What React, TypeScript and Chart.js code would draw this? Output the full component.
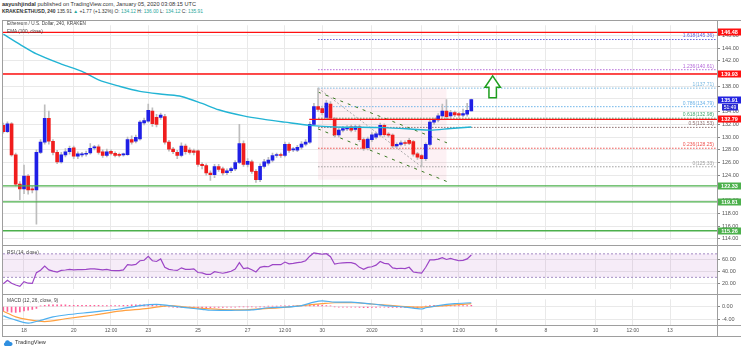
import React, { useEffect, useRef } from "react";
import { Chart, registerables } from "chart.js";
Chart.register(...registerables);

const FONT = "'Liberation Sans', Arial, sans-serif";

// ---------- time axis (days counted from Dec 0, 2019; Jan 1 2020 = 32) ----------
const FIRST_CANDLE_DAY = 17 + 4 / 24; // Dec 17, 04:00
const CANDLE_DAYS = 4 / 24; // 240 min candles
const X_MIN = 17.155;
const X_MAX = 45.887;
const xTickDays = [18, 20, 21.5, 23, 25, 27, 28.5, 30, 32, 34, 35.5, 37, 39, 41, 42.5, 44];
const xTickLabels = ["18", "20", "12:00", "23", "25", "27", "12:00", "30", "2020", "3", "12:00", "6", "8", "10", "12:00", "13"];

// ---------- price pane ----------
const priceTicks = [114, 116, 118, 120, 122, 124, 126, 128, 130, 132, 134, 136, 138, 140, 142, 144, 146];
const opens = [
  131.85, 130.85, 132.1, 127.2, 122.6, 121.85, 123.85, 121.85, 121.7, 127.6,
  129.2, 132.95, 129.35, 127.6, 126.1, 127.2, 127.7, 128.3, 127.0, 127.2,
  127.3, 127.5, 128.3, 128.45, 127.7, 127.1, 127.75, 127.45, 127.3, 127.2,
  127.25, 129.6, 129.35, 129.7, 132.25, 132.5, 134.1, 133.1, 133.1, 133.25,
  129.2, 128.1, 127.6, 127.1, 128.6, 127.95, 127.85, 127.85, 125.7, 125.5,
  124.35, 124.1, 125.35, 125.0, 124.4, 124.7, 125.0, 126.0, 129.0, 125.7,
  126.1, 124.6, 123.3, 125.4, 125.9, 126.35, 127.1, 127.15, 127.1, 128.85,
  128.0, 127.95, 128.4, 128.9, 129.2, 132.0, 134.8, 134.5, 133.1, 135.2,
  132.85, 130.35, 131.1, 131.3, 131.6, 131.2, 131.6, 129.6, 128.35, 129.6,
  130.0, 130.35, 131.85, 130.4, 130.3, 128.6, 128.85, 129.1, 129.5, 129.3,
  127.35, 127.1, 126.6, 128.85, 132.35, 132.7, 133.35, 134.1, 133.35, 133.85,
  133.7, 133.45, 133.6, 134.12,
];
const highs = [
  132.2, 132.4, 132.3, 127.5, 123.0, 125.6, 124.1, 122.2, 128.0, 129.6,
  135.1, 134.1, 129.6, 127.9, 127.6, 128.2, 128.6, 128.6, 127.7, 127.6,
  127.8, 129.0, 128.7, 128.8, 128.0, 128.1, 128.0, 127.7, 127.5, 127.5,
  130.0, 130.2, 130.3, 132.6, 133.0, 135.2, 134.6, 133.6, 133.8, 133.6,
  129.5, 128.4, 127.9, 129.1, 128.9, 128.3, 128.1, 128.0, 126.0, 125.8,
  124.7, 125.7, 125.7, 125.3, 125.0, 125.3, 126.3, 132.0, 129.4, 126.6,
  126.4, 124.9, 125.8, 126.5, 126.8, 127.5, 127.5, 127.5, 129.2, 129.1,
  128.4, 128.7, 129.3, 129.6, 132.4, 135.3, 137.71, 134.9, 135.8, 135.6,
  133.1, 131.5, 131.7, 131.8, 131.9, 131.9, 131.9, 129.9, 130.0, 130.7,
  130.8, 132.2, 132.1, 130.7, 130.5, 129.1, 129.4, 129.4, 129.8, 129.5,
  127.6, 127.3, 129.1, 132.6, 133.0, 133.7, 135.2, 135.9, 134.2, 134.1,
  133.9, 134.4, 135.3, 136.0,
];
const lows = [
  130.6, 130.7, 127.0, 122.3, 120.15, 121.1, 121.0, 121.2, 116.3, 127.4,
  128.9, 128.9, 127.2, 125.8, 125.9, 126.9, 127.3, 126.6, 126.6, 126.9,
  127.0, 127.3, 128.0, 127.3, 126.8, 126.9, 127.2, 126.9, 126.9, 127.0,
  127.1, 128.9, 129.1, 129.5, 131.9, 132.3, 131.7, 131.6, 132.8, 128.9,
  127.8, 127.4, 126.6, 126.9, 127.3, 127.3, 127.2, 125.4, 125.0, 124.0,
  123.2, 123.6, 124.6, 124.0, 124.1, 124.4, 124.7, 125.8, 125.4, 125.3,
  124.3, 122.85, 123.0, 125.1, 125.6, 126.1, 126.8, 126.8, 126.9, 127.6,
  127.7, 127.7, 128.1, 128.6, 129.0, 131.8, 134.0, 133.5, 132.8, 132.7,
  130.0, 130.0, 130.8, 131.0, 130.8, 130.9, 129.3, 127.9, 128.0, 129.3,
  129.7, 130.1, 130.1, 130.0, 128.3, 128.3, 128.6, 128.7, 128.8, 127.0,
  126.5, 125.33, 126.3, 128.6, 132.0, 132.4, 133.1, 132.9, 133.0, 133.2,
  133.1, 133.2, 133.3, 134.12,
];
const closes = [
  130.85, 132.1, 127.2, 122.6, 121.85, 123.85, 121.7, 121.7, 127.6, 129.2,
  132.95, 129.35, 127.6, 126.1, 127.2, 127.7, 128.25, 127.0, 127.35, 127.25,
  127.45, 128.25, 128.35, 127.6, 127.1, 127.7, 127.45, 127.1, 127.1, 127.25,
  129.6, 129.2, 129.95, 132.35, 132.6, 134.2, 132.1, 132.0, 133.45, 129.2,
  128.1, 127.7, 127.1, 128.6, 127.7, 127.6, 127.6, 125.7, 125.5, 124.35,
  124.1, 125.35, 124.9, 124.35, 124.7, 125.05, 126.0, 129.0, 125.7, 126.2,
  124.6, 123.3, 125.4, 126.1, 126.4, 127.1, 127.15, 127.1, 128.85, 127.9,
  128.05, 128.4, 128.9, 129.2, 132.0, 134.8, 134.35, 133.85, 135.35, 133.0,
  130.35, 131.1, 131.35, 131.5, 131.1, 131.6, 129.6, 128.2, 129.7, 130.35,
  130.5, 131.85, 130.4, 130.3, 128.6, 128.85, 129.1, 129.0, 129.0, 127.3,
  126.85, 126.6, 128.85, 132.35, 132.7, 133.35, 134.1, 133.2, 133.85, 133.5,
  133.45, 133.7, 134.2, 135.91,
];

// EMA(100) read at candle indices
const emaAt = [0, 4, 8, 14, 19, 23, 28, 33, 39, 43, 48, 52, 58, 63, 68, 74, 80, 92, 100, 103, 108, 113];
const emaValues = [146.2, 144.6, 143.1, 141.5, 140.35, 139.0, 138.0, 137.2, 136.7, 136.4, 135.3, 134.3, 133.35, 132.8, 132.35, 131.85, 131.6, 131.5, 131.2, 131.1, 131.35, 131.6];

// horizontal levels
const resistanceLevels = [146.48, 139.93];
const pivotLevel = 132.79;
const pivotStartDay = 29.48;
const supportLevels = [122.33, 119.81, 115.26];
const lastPrice = 135.91;
const countdownText = "51:49";

// fibonacci retracement (from swing high to swing low)
const fibStartDay = 29.833;
const fibRatios = ["1.618", "1.236", "1", "0.786", "0.618", "0.5", "0.236", "0"];
const fibPrices = [145.36, 140.61, 137.71, 134.79, 132.98, 131.53, 128.25, 125.33];
const fibTrendFrom = { day: 29.833, price: 137.71 };
const fibTrendTo = { day: 34.0, price: 125.33 };

// descending channel
const channelUpper = [{ day: 29.83, price: 137.1 }, { day: 35.02, price: 129.1 }];
const channelLower = [{ day: 29.83, price: 131.3 }, { day: 35.02, price: 123.0 }];
const zone = { fromDay: 29.83, toDay: 35.0, top: 137.71, bottom: 123.3 };

// breakout arrow (in data units)
const arrow = { day: 36.86, tip: 139.65, headBase: 137.85, tail: 136.2, headHalfDays: 0.31, stemHalfDays: 0.15 };

// ---------- RSI pane ----------
const rsiTicks = [20, 40, 60];
const rsiValues = [
  19, 25, 20, 17, 14.7, 22.7, 20, 19.6, 38, 42,
  49, 42.7, 40.5, 39, 41.8, 42.5, 43.5, 42.7, 43, 43,
  43.6, 44.5, 44.5, 43.6, 42.8, 43.5, 41.8, 41.5, 41.5, 42.7,
  51.6, 50.7, 52, 58.2, 59, 65.8, 58.2, 57, 61.3, 47,
  43.6, 42.5, 41.8, 46.2, 43.6, 43.5, 44.4, 38.2, 37.5, 35.1,
  35, 39.6, 38.2, 37, 38.5, 40.4, 44, 55.1, 44.9, 46,
  43, 39.1, 47, 48.5, 48, 51.6, 51.5, 51.6, 56, 53,
  53.8, 55, 56, 58.2, 66, 71.6, 70.5, 69.3, 70.2, 65,
  52.4, 54, 54.5, 55, 55.1, 53, 47, 43.6, 47, 48,
  50.7, 56.9, 53.8, 53, 46, 44.9, 45.5, 44.9, 47.1, 39.1,
  38, 37.3, 47.1, 59.6, 59.6, 61, 63.6, 60.4, 62.2, 60,
  58.2, 59, 61.3, 68,
];
const rsiUpper = 70;
const rsiLower = 30;

// ---------- MACD pane ----------
const macdTicks = [-4, 0];
const macdAt = [0, 2, 6, 9, 12, 15, 22, 28, 33, 37, 40, 44, 48, 50, 56, 60, 64, 68, 72, 75, 77, 80, 84, 89, 93, 97, 101, 102, 105, 109, 113];
const macdValues = [-3.0, -3.9, -5.3, -4.4, -3.3, -2.7, -1.7, -0.8, 0.3, 0.7, 0.3, -0.35, -0.9, -1.2, -1.2, -1.1, -0.4, -0.2, 0.3, 1.4, 1.8, 1.4, 1.4, 0.8, 0.2, -0.2, -0.8, -0.4, 0.3, 0.9, 1.2];
const signalAt = [0, 3, 6, 10, 15, 22, 28, 35, 40, 44, 49, 56, 60, 67, 72, 77, 80, 85, 89, 97, 101, 109, 113];
const signalValues = [-1.5, -3.3, -4.2, -4.8, -3.9, -2.7, -1.5, -0.6, 0.3, -0.2, -0.7, -1.1, -0.9, -0.35, 0.3, 0.9, 1.2, 1.2, 0.8, 0.0, -0.2, 0.5, 0.9];
const histValues = [
  -1.5, -1.6, -1.8, -1.9, -1.7, -1.4, -1.2, -0.9, -0.6, 0.2,
  0.4, 0.5, 0.5, 0.5, 0.5, 0.5, 0.4, 0.4, 0.4, 0.4,
  0.4, 0.4, 0.4, 0.4, 0.3, 0.3, 0.3, 0.3, 0.3, 0.4,
  0.4, 0.5, 0.5, 0.5, 0.5, 0.4, 0.4, 0.3, 0.2, 0.1,
  -0.1, -0.2, -0.3, -0.3, -0.3, -0.3, -0.3, -0.4, -0.4, -0.4,
  -0.4, -0.3, -0.3, -0.3, -0.2, -0.2, -0.2, -0.1, -0.1, -0.1,
  -0.1, -0.2, -0.1, -0.1,
  0.1, 0.1, 0.1, 0.2, 0.2, 0.2, 0.2, 0.3, 0.3, 0.4,
  0.5, 0.5, 0.5, 0.4, 0.3, 0.2,
  -0.1, -0.2, -0.2, -0.2, -0.2, -0.2, -0.3, -0.4, -0.4, -0.3,
  -0.3, -0.2, -0.2, -0.3, -0.3, -0.3, -0.3, -0.3, -0.3, -0.4,
  -0.4, -0.3,
  0.1, 0.3, 0.4, 0.4, 0.4, 0.4, 0.4, 0.3, 0.3, 0.3, 0.3, 0.4,
];

// ---------- styles ----------
const UP = "#1f1fe6";
const DOWN = "#f01d1d";
const WICK = "#bdbdbd";
const GRID = "#e9e9e9";
const RED = "#ff1010";
const GREEN = "#4cb04c";
const fibColors = ["#6464dc", "#b56ad9", "#79b8e0", "#6bb3e8", "#43a872", "#8d6e6e", "#ef5350", "#a0a0a0"];

const dayOf = (k: number) => FIRST_CANDLE_DAY + k * CANDLE_DAYS;

function xScale(showLabels: boolean): any {
  return {
    type: "linear",
    min: X_MIN,
    max: X_MAX,
    offset: false,
    afterBuildTicks: (s: any) => {
      s.ticks = xTickDays.map((v) => ({ value: v }));
    },
    afterFit: (s: any) => {
      s.height = showLabels ? 12 : 0;
    },
    grid: { color: GRID, drawTicks: false, offset: false },
    border: { display: false },
    ticks: {
      display: showLabels,
      autoSkip: false,
      maxRotation: 0,
      minRotation: 0,
      padding: 3,
      color: "#555",
      font: { family: FONT, size: 5 },
      callback: (_v: any, i: number) => xTickLabels[i],
    },
  };
}

function yScale(min: number, max: number, ticks: number[]): any {
  return {
    type: "linear",
    position: "right",
    min,
    max,
    afterBuildTicks: (s: any) => {
      s.ticks = ticks.map((v) => ({ value: v }));
    },
    afterFit: (s: any) => {
      s.width = 24;
    },
    grid: { color: GRID, tickColor: "#888", tickLength: 3, drawTicks: true },
    border: { display: false },
    ticks: {
      color: "#555",
      padding: 2,
      font: { family: FONT, size: 5.5 },
      callback: (v: any) => Number(v).toFixed(2),
    },
  };
}

const baseOptions = (scales: any) => ({
  responsive: false,
  animation: false as const,
  devicePixelRatio: 1,
  events: [] as any[],
  layout: { padding: { left: 3, right: 0, top: 0, bottom: 0 }, autoPadding: false },
  plugins: { legend: { display: false }, tooltip: { enabled: false } },
  scales,
});

const hLine = (v: number, from: number, color: string, width: number, dash: number[], order: number) => ({
  type: "line",
  data: [
    { x: from, y: v },
    { x: X_MAX, y: v },
  ],
  borderColor: color,
  borderWidth: width,
  borderDash: dash,
  pointRadius: 0,
  fill: false,
  order,
});

const segLine = (pts: { day: number; price: number }[], color: string, dash: number[], order: number) => ({
  type: "line",
  data: pts.map((p) => ({ x: p.day, y: p.price })),
  borderColor: color,
  borderWidth: 1,
  borderDash: dash,
  pointRadius: 0,
  fill: false,
  order,
});

function mainConfig(): any {
  const bodies = opens.map((o, i) => ({ x: dayOf(i), y: [o, closes[i]] }));
  const wicks = opens.map((_o, i) => ({ x: dayOf(i), y: [lows[i], highs[i]] }));
  const bodyColors = opens.map((o, i) => (closes[i] >= o ? UP : DOWN));
  const ema = emaAt.map((k, i) => ({ x: dayOf(k), y: emaValues[i] }));

  const overlay = {
    id: "overlay",
    beforeDatasetsDraw(chart: any) {
      const { ctx, scales } = chart;
      const x = scales.x,
        y = scales.y;
      const x1 = x.getPixelForValue(zone.fromDay);
      const x2 = x.getPixelForValue(zone.toDay);
      const y1 = y.getPixelForValue(zone.top);
      const y2 = y.getPixelForValue(zone.bottom);
      ctx.save();
      ctx.fillStyle = "rgba(240, 150, 170, 0.13)";
      ctx.fillRect(x1, y1, x2 - x1, y2 - y1);
      ctx.restore();
    },
    afterDatasetsDraw(chart: any) {
      const { ctx, scales, chartArea } = chart;
      const x = scales.x,
        y = scales.y;
      ctx.save();
      // fib labels
      ctx.font = `5px ${FONT}`;
      ctx.textAlign = "right";
      ctx.textBaseline = "bottom";
      fibPrices.forEach((p, i) => {
        ctx.fillStyle = fibColors[i];
        ctx.fillText(`${fibRatios[i]}(${p.toFixed(2)})`, chartArea.right - 3, y.getPixelForValue(p) - 1);
      });
      // arrow
      const ax = x.getPixelForValue(arrow.day);
      const hw = x.getPixelForValue(arrow.day + arrow.headHalfDays) - ax;
      const sw = x.getPixelForValue(arrow.day + arrow.stemHalfDays) - ax;
      const yt = y.getPixelForValue(arrow.tip);
      const yb = y.getPixelForValue(arrow.headBase);
      const ys = y.getPixelForValue(arrow.tail);
      ctx.beginPath();
      ctx.moveTo(ax, yt);
      ctx.lineTo(ax + hw, yb);
      ctx.lineTo(ax + sw, yb);
      ctx.lineTo(ax + sw, ys);
      ctx.lineTo(ax - sw, ys);
      ctx.lineTo(ax - sw, yb);
      ctx.lineTo(ax - hw, yb);
      ctx.closePath();
      ctx.fillStyle = "#ffffff";
      ctx.fill();
      ctx.strokeStyle = "#1e9e1e";
      ctx.lineWidth = 1.5;
      ctx.stroke();
      ctx.restore();
    },
    afterDraw(chart: any) {
      const { ctx, scales, chartArea } = chart;
      const y = scales.y;
      const left = chartArea.right + 1;
      const w = chart.width - left;
      const box = (v: number, color: string) => {
        const py = Math.round(y.getPixelForValue(v));
        ctx.fillStyle = color;
        ctx.fillRect(left, py - 3.5, w, 7);
        ctx.fillStyle = "#fff";
        ctx.font = `bold 5.5px ${FONT}`;
        ctx.textAlign = "center";
        ctx.textBaseline = "middle";
        ctx.fillText(v.toFixed(2), left + w / 2, py + 0.5);
      };
      ctx.save();
      resistanceLevels.forEach((v) => box(v, RED));
      box(pivotLevel, RED);
      supportLevels.forEach((v) => box(v, GREEN));
      box(lastPrice, "#2323e0");
      const py = Math.round(y.getPixelForValue(lastPrice));
      ctx.fillStyle = "#2b2bd0";
      ctx.fillRect(left + 4, py + 4, 16, 6.5);
      ctx.fillStyle = "#fff";
      ctx.font = `5px ${FONT}`;
      ctx.textAlign = "center";
      ctx.textBaseline = "middle";
      ctx.fillText(countdownText, left + 12, py + 7.5);
      ctx.restore();
    },
  };

  return {
    type: "bar",
    data: {
      datasets: [
        ...fibPrices.map((p, i) => hLine(p, fibStartDay, fibColors[i], 1, [1.5, 1.5], 10)),
        segLine([fibTrendFrom, fibTrendTo], "#a9a9a9", [2, 2], 9),
        segLine(channelUpper, "#3b7a22", [3, 5], 8),
        segLine(channelLower, "#3b7a22", [3, 5], 8),
        {
          type: "bar",
          data: wicks,
          backgroundColor: WICK,
          barThickness: 1,
          grouped: false,
          order: 6,
        },
        {
          type: "bar",
          data: bodies,
          backgroundColor: bodyColors,
          barThickness: 3,
          minBarLength: 1,
          grouped: false,
          order: 5,
        },
        {
          type: "line",
          data: ema,
          borderColor: "#22b4d4",
          borderWidth: 1.4,
          pointRadius: 0,
          tension: 0.3,
          fill: false,
          order: 4,
        },
        ...resistanceLevels.map((v) => hLine(v, X_MIN, RED, 1.4, [], 2)),
        hLine(pivotLevel, pivotStartDay, RED, 1.4, [], 2),
        ...supportLevels.map((v) => hLine(v, X_MIN, GREEN, 1.4, [], 2)),
      ],
    },
    options: baseOptions({ x: xScale(false), y: yScale(113.85, 147.6, priceTicks) }),
    plugins: [overlay],
  };
}

function rsiConfig(): any {
  const rsi = rsiValues.map((v, i) => ({ x: dayOf(i), y: v }));
  return {
    type: "line",
    data: {
      datasets: [
        {
          data: [
            { x: X_MIN, y: rsiUpper },
            { x: X_MAX, y: rsiUpper },
          ],
          borderColor: "#a58fc4",
          borderWidth: 1,
          borderDash: [2, 2],
          pointRadius: 0,
          fill: false,
          order: 3,
        },
        {
          data: [
            { x: X_MIN, y: rsiLower },
            { x: X_MAX, y: rsiLower },
          ],
          borderColor: "#a58fc4",
          borderWidth: 1,
          borderDash: [2, 2],
          pointRadius: 0,
          fill: "-1",
          backgroundColor: "rgba(156, 39, 176, 0.09)",
          order: 2,
        },
        {
          data: rsi,
          borderColor: "#9c45c6",
          borderWidth: 1.2,
          pointRadius: 0,
          fill: false,
          order: 1,
        },
      ],
    },
    options: baseOptions({ x: xScale(false), y: yScale(10.67, 76, rsiTicks) }),
  };
}

function macdConfig(): any {
  return {
    type: "bar",
    data: {
      datasets: [
        {
          type: "bar",
          data: histValues.map((v, i) => ({ x: dayOf(i), y: v })),
          backgroundColor: "#ff5f98",
          barThickness: 1,
          grouped: false,
          order: 3,
        },
        {
          type: "line",
          data: signalAt.map((k, i) => ({ x: dayOf(k), y: signalValues[i] })),
          borderColor: "#ffa040",
          borderWidth: 1.2,
          pointRadius: 0,
          tension: 0.3,
          fill: false,
          order: 2,
        },
        {
          type: "line",
          data: macdAt.map((k, i) => ({ x: dayOf(k), y: macdValues[i] })),
          borderColor: "#4fb0f0",
          borderWidth: 1.2,
          pointRadius: 0,
          tension: 0.3,
          fill: false,
          order: 1,
        },
      ],
    },
    options: baseOptions({ x: xScale(true), y: yScale(-5.9, 2.3, macdTicks) }),
  };
}

const txt: React.CSSProperties = {
  position: "absolute",
  whiteSpace: "nowrap",
  fontFamily: FONT,
  lineHeight: 1,
  color: "#444",
};
const TEAL = "#26a69a";
const FRAME = "#9e9e9e";

export default function App() {
  const mainRef = useRef<HTMLCanvasElement>(null);
  const rsiRef = useRef<HTMLCanvasElement>(null);
  const macdRef = useRef<HTMLCanvasElement>(null);

  useEffect(() => {
    const charts = [
      new Chart(mainRef.current as HTMLCanvasElement, mainConfig()),
      new Chart(rsiRef.current as HTMLCanvasElement, rsiConfig()),
      new Chart(macdRef.current as HTMLCanvasElement, macdConfig()),
    ];
    return () => charts.forEach((c) => c.destroy());
  }, []);

  const hRule = (top: number, left = 2): React.CSSProperties => ({
    position: "absolute",
    left,
    top,
    width: 741 - left,
    height: 1,
    background: FRAME,
  });

  return (
    <div
      style={{
        position: "fixed",
        left: 0,
        top: 0,
        width: 741,
        height: 351,
        background: "#fff",
        overflow: "hidden",
        fontFamily: FONT,
      }}
    >
      <div style={{ ...txt, left: 2, top: 2, fontSize: 5.6, color: "#333" }}>
        <b>aayushjindal</b> published on TradingView.com, January 05, 2020 03:08:15 UTC
      </div>
      <div style={{ ...txt, left: 2, top: 10, fontSize: 4.9, color: "#333" }}>
        <b>KRAKEN:ETHUSD, 240</b> 135.91 <span style={{ color: TEAL }}>▲</span> +1.77 (+1.32%) O:{" "}
        <span style={{ color: TEAL }}>134.12</span> H: <span style={{ color: TEAL }}>136.00</span> L:{" "}
        <span style={{ color: TEAL }}>134.12</span> C: <span style={{ color: TEAL }}>135.91</span>
      </div>

      <canvas ref={mainRef} width={741} height={225} style={{ position: "absolute", left: 0, top: 20 }} />
      <canvas ref={rsiRef} width={741} height={49} style={{ position: "absolute", left: 0, top: 245 }} />
      <canvas ref={macdRef} width={741} height={43} style={{ position: "absolute", left: 0, top: 294 }} />

      {/* frame */}
      <div style={hRule(20)} />
      <div style={hRule(245)} />
      <div style={hRule(294)} />
      <div style={hRule(325)} />
      <div style={hRule(336)} />
      <div style={{ position: "absolute", left: 2, top: 20, width: 1, height: 317, background: FRAME }} />
      <div style={{ position: "absolute", left: 717, top: 20, width: 1, height: 317, background: FRAME }} />

      <div style={{ ...txt, left: 7, top: 22, fontSize: 4.7 }}>Ethereum / U.S. Dollar, 240, KRAKEN</div>
      <div style={{ ...txt, left: 7, top: 30, fontSize: 4.7 }}>EMA (100, close)</div>
      <div style={{ ...txt, left: 7, top: 251, fontSize: 4.8 }}>RSI (14, close)</div>
      <div style={{ ...txt, left: 7, top: 299, fontSize: 4.8 }}>MACD (12, 26, close, 9)</div>

      <div style={{ ...txt, left: 3, top: 340, fontSize: 5.6, color: "#333", display: "flex", alignItems: "center" }}>
        <svg width="10" height="6" viewBox="0 0 10 6" style={{ marginRight: 2 }}>
          <path d="M2 6 A2 2 0 0 1 2 2.4 A2.6 2.6 0 0 1 7 2 A2 2 0 0 1 8 6 Z" fill="#2f8fe0" />
        </svg>
        TradingView
      </div>
    </div>
  );
}
